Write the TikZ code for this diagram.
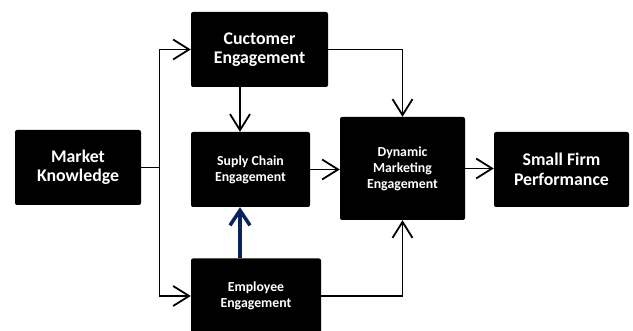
\documentclass[tikz,border=0pt]{standalone}
\usepackage{fontspec}
\setmainfont{Carlito}
\usetikzlibrary{arrows.meta}
\definecolor{navy}{HTML}{0B2160}
\begin{document}
\begin{tikzpicture}[x=1pt, y=-1pt,
    box/.style={fill=black, rounded corners=2pt, text=white, align=center, inner sep=0pt},
    big/.style={font=\fontsize{17.8}{19.5}\bfseries\selectfont},
    small/.style={font=\fontsize{13.8}{16}\bfseries\selectfont},
    link/.style={line width=1.8pt, -{Straight Barb[length=16pt, width=20pt]}},
    navylink/.style={navy, line width=3.5pt, -{Straight Barb[length=15pt, width=20pt]}}]
    \useasboundingbox (0,0) rectangle (633,331);
    \node[box, big, minimum width=126pt, minimum height=75pt] (market) at (78,167.5) {Market\\Knowledge};
    \node[box, big, minimum width=137pt, minimum height=75pt] (cust) at (259.5,49.5) {Cuctomer\\Engagement};
    \node[box, small, minimum width=119pt, minimum height=75pt] (supply) at (250.5,169.5) {Suply Chain\\Engagement};
    \node[box, small, minimum width=130pt, minimum height=75pt] (empl) at (256,296) {Employee\\Engagement};
    \node[box, small, minimum width=125pt, minimum height=103pt] (dyn) at (402.5,168.5) {Dynamic\\Marketing\\Engagement};
    \node[box, big, minimum width=135pt, minimum height=75pt] (small) at (561.5,169.5) {Small Firm\\Performance};
    \coordinate (split) at (159.5,167.5);
    \draw[line width=1.8pt] (market.east) -- (split);
    \draw[link] (split) |- (cust.west);
    \draw[link] (split) |- (empl.west);
    \draw[link] ([xshift=-19.5pt]cust.south) -- ([xshift=-10.5pt]supply.north);
    \draw[navylink] ([xshift=-16pt]empl.north) -- ([xshift=-10.5pt]supply.south);
    \draw[link] (supply.east) -- (supply.east -| dyn.west);
    \draw[link] (cust.east) -| (dyn.north);
    \draw[link] (empl.east) -| (dyn.south);
    \draw[link] (dyn.east) -- (dyn.east -| small.west);
\end{tikzpicture}
\end{document}
